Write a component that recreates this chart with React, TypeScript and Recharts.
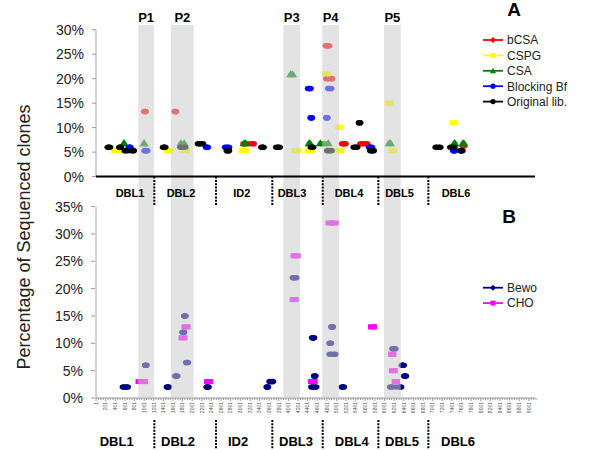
import React from 'react'
import { ComposedChart, Line, Area, XAxis, YAxis, ReferenceLine, ReferenceDot } from 'recharts'

const FONT = '"Liberation Sans", Arial, sans-serif'

// each mark: [from nt, to nt, % of sequenced clones]
type Mark = [number, number, number]

const bcsaMarks: Mark[] = [[1020, 1020, 13.3], [1650, 1650, 13.3], [3080, 3270, 6.7], [4790, 4840, 26.7], [4800, 4900, 20], [5130, 5180, 6.7], [5510, 5630, 6.7], [7645, 7645, 6.3]]
const cspgMarks: Mark[] = [[400, 460, 5.3], [1490, 1520, 5.3], [1840, 1870, 5.3], [3050, 3110, 5.3], [4150, 4190, 5.3], [4420, 4470, 5.3], [4780, 4815, 21], [5045, 5070, 10.1], [5030, 5080, 5.3], [6085, 6110, 15], [6165, 6180, 5.3], [7430, 7450, 11]]
const csaMarks: Mark[] = [[580, 585, 6.7], [1000, 1000, 6.7], [1765, 1835, 6.7], [3080, 3110, 6.7], [4050, 4090, 20.8], [4430, 4450, 6.7], [4665, 4830, 6.7], [6095, 6125, 6.7], [7450, 7465, 6.7], [7630, 7650, 6.7]]
const blockingMarks: Mark[] = [[695, 705, 6], [1020, 1055, 5.3], [2300, 2315, 6], [2695, 2755, 6], [4420, 4450, 18], [4478, 4478, 12], [4840, 4880, 18], [4800, 4800, 12], [5690, 5730, 6], [7440, 7455, 5.3]]
const originalMarks: Mark[] = [[255, 280, 6], [499, 499, 6], [610, 775, 5.3], [1405, 1430, 6], [1765, 1845, 6], [2130, 2215, 6.7], [2730, 2755, 5.3], [3450, 3475, 6], [3760, 3810, 6], [4480, 4505, 6], [4820, 4885, 5.3], [5370, 5420, 6], [5481, 5481, 11], [5715, 5765, 5.3], [7075, 7150, 6], [7380, 7440, 6], [7585, 7610, 5.3]]

const bewoMarks: Mark[] = [[570, 650, 2], [1036, 1036, 6], [1485, 1505, 2], [1660, 1680, 4], [1810, 1820, 12], [1847, 1847, 15], [1885, 1900, 6.5], [2310, 2330, 2], [3564, 3564, 2], [3620, 3670, 3], [4105, 4155, 22], [4505, 4525, 11], [4549, 4549, 4], [4490, 4570, 2], [4909, 4909, 13], [4873, 4873, 10], [4870, 4965, 8], [5125, 5145, 2], [6175, 6215, 9], [6130, 6335, 2], [6370, 6390, 6], [6420, 6435, 4]]
const choMarks: Mark[] = [[905, 1000, 3], [1800, 1820, 11], [1860, 1885, 13], [2330, 2355, 3], [4130, 4170, 26], [4110, 4135, 18], [4490, 4530, 3], [4855, 4965, 32], [5740, 5765, 13], [6161, 6161, 8], [6175, 6195, 5], [6236, 6236, 3]]

const TOP_SERIES = [
  { name: 'bCSA', color: '#ff0000', shape: 'diamond', marks: bcsaMarks },
  { name: 'CSPG', color: '#ffff00', shape: 'square', marks: cspgMarks },
  { name: 'CSA', color: '#008000', shape: 'triangle', marks: csaMarks },
  { name: 'Blocking Bf', color: '#0000ff', shape: 'circle', marks: blockingMarks },
  { name: 'Original lib.', color: '#000000', shape: 'circle', marks: originalMarks },
]
const BOTTOM_SERIES = [
  { name: 'Bewo', color: '#000080', shape: 'diamond', marks: bewoMarks },
  { name: 'CHO', color: '#ff00ff', shape: 'square', marks: choMarks },
]

const BAND_NAMES = ['P1', 'P2', 'P3', 'P4', 'P5']
const BANDS = [[880, 1205], [1560, 2032], [3896, 4243], [4705, 5054], [5990, 6338]]

const DOMAIN_NAMES = ['DBL1', 'DBL2', 'ID2', 'DBL3', 'DBL4', 'DBL5', 'DBL6']
const DOMAIN_BOUNDS = [1213, 2496, 3667, 4715, 5872, 6912]
const TOP_LABEL_POS = [707, 1768, 3031, 4077, 5262, 6313, 7488]
const BOTTOM_LABEL_POS = [430, 1706, 2954, 4160, 5319, 6365, 7530]

const POS_LABELS = [1, 201, 401, 601, 801, 1001, 1201, 1401, 1601, 1801, 2001, 2201, 2401, 2601, 2801, 3001, 3201, 3401, 3601, 3801, 4001, 4201, 4401, 4601, 4801, 5001, 5201, 5401, 5601, 5801, 6001, 6201, 6401, 6601, 6801, 7001, 7201, 7401, 7601, 7801, 8001, 8201, 8401, 8601, 8801, 9001]
const posTicks = POS_LABELS.flatMap(l => [l, l + 50, l + 100, l + 150])

const A_TICKS = [0, 5, 10, 15, 20, 25, 30]
const B_TICKS = [0, 5, 10, 15, 20, 25, 30, 35]

const X_DOMAIN = [0, 9130]
const A_DOMAIN = [-45.22, 30.96]
const B_DOMAIN = [0, 68.2]
const MARGIN = { top: 25, right: 65, bottom: 0, left: 94 }
const OVERLAY_MARGIN = { top: 25, right: 65, bottom: 52, left: 96 }

const toPoints = (marks: Mark[]) =>
  marks.flatMap(([a, b, v]) => [{ x: a, y: v }, { x: b, y: v }, { x: b, y: null }])

// peptide bands cover the full height of both panels
const bandData = BANDS.flatMap(([a, b]) => [{ x: a, y: A_DOMAIN[1] }, { x: b, y: A_DOMAIN[1] }, { x: b, y: null }])
const axisLineData = [{ x: X_DOMAIN[0], y: 0 }, { x: X_DOMAIN[1], y: 0 }]
const dividerData = DOMAIN_BOUNDS.flatMap(b => [{ x: b, y: 0 }, { x: b, y: -5.8 }, { x: b, y: null }])

const makeDot = (shape: string, color: string) => (p: any) => {
  const { cx, cy, index, payload } = p
  const k = `d${index}`
  if (!payload || payload.y == null || cx == null || cy == null || isNaN(cy)) return <g key={k} />
  if (shape === 'square') return <rect key={k} x={cx - 4} y={cy - 2.5} width={8} height={5} fill={color} />
  if (shape === 'triangle')
    return <polygon key={k} points={`${cx - 4.5},${cy + 2.5} ${cx + 4.5},${cy + 2.5} ${cx},${cy - 4.5}`} fill={color} />
  return <ellipse key={k} cx={cx} cy={cy} rx={3.8} ry={2.8} fill={color} />
}

const PosTick = (p: any) => {
  const { x, y, payload } = p
  const v = payload.value
  const major = POS_LABELS.includes(v)
  return (
    <g>
      <line x1={x} x2={x} y1={y} y2={y + (major ? 3 : 2)} stroke="#999" />
      {major && (
        <text transform={`translate(${x + 1.8},${y + 4}) rotate(-90)`} textAnchor="end" fontSize={5} fill="#555" fontFamily={FONT}>
          {v}
        </text>
      )}
    </g>
  )
}

const LegendMarker = ({ shape, color, x, y }: any) => {
  if (shape === 'square') return <rect x={x - 2.5} y={y - 2.5} width={5} height={5} fill={color} />
  if (shape === 'triangle') return <polygon points={`${x - 3},${y + 2.5} ${x + 3},${y + 2.5} ${x},${y - 3}`} fill={color} />
  if (shape === 'diamond') return <polygon points={`${x - 3},${y} ${x},${y - 3} ${x + 3},${y} ${x},${y + 3}`} fill={color} />
  return <circle cx={x} cy={y} r={2.6} fill={color} />
}

const LegendBlock = ({ series, top }: any) => (
  <g>
    {series.map((s: any, i: number) => {
      const y = top + i * 15.4
      return (
        <g key={s.name}>
          <line x1={483} x2={503} y1={y} y2={y} stroke={s.color} strokeWidth={1.8} />
          <LegendMarker shape={s.shape} color={s.color} x={493} y={y} />
          <text x={507} y={y + 4.3} fontSize={12} fill="#222" fontFamily={FONT}>{s.name}</text>
        </g>
      )
    })}
  </g>
)

const labelStyle = (value: string, size: number) => ({
  value, position: 'center' as const, fontSize: size, fontWeight: 'bold', fill: '#000', fontFamily: FONT,
})

export default function App() {
  const pct = (v: number) => `${v}%`
  const tickStyle = { fontSize: 14, fill: '#222', fontFamily: FONT }
  return (
    <div style={{ position: 'absolute', left: 0, top: 0, width: 600, height: 450, background: '#fff' }}>
      {/* base chart: axes, labels and the clone marks */}
      <ComposedChart width={600} height={450} margin={MARGIN}>
        <XAxis xAxisId="pos" dataKey="x" type="number" domain={X_DOMAIN} allowDataOverflow ticks={posTicks} interval={0}
          height={52} tickSize={0} tickMargin={0} tickLine={false} axisLine={{ stroke: '#999' }} tick={<PosTick />} />
        <YAxis yAxisId="A" type="number" domain={A_DOMAIN} allowDataOverflow ticks={A_TICKS} interval={0} width={1}
          axisLine={false} tickLine={{ stroke: '#999' }} tickSize={4} tickMargin={8} tickFormatter={pct} tick={tickStyle} />
        <YAxis yAxisId="B" type="number" domain={B_DOMAIN} allowDataOverflow ticks={B_TICKS} interval={0} width={1}
          axisLine={false} tickLine={{ stroke: '#999' }} tickSize={4} tickMargin={8} tickFormatter={pct} tick={tickStyle} />

        <ReferenceLine xAxisId="pos" yAxisId="A" segment={[{ x: 0, y: 0 }, { x: 0, y: 30 }]} stroke="#aaa" />
        <ReferenceLine xAxisId="pos" yAxisId="B" segment={[{ x: 0, y: 0 }, { x: 0, y: 35 }]} stroke="#aaa" />
        {DOMAIN_BOUNDS.map(b => (
          <ReferenceLine key={`bb${b}`} xAxisId="pos" yAxisId="B" segment={[{ x: b, y: -4.0 }, { x: b, y: -9.2 }]}
            stroke="#000" strokeWidth={2} strokeDasharray="2 1.3" ifOverflow="visible" />
        ))}

        {TOP_SERIES.map(s => (
          <Line key={s.name} xAxisId="pos" yAxisId="A" data={toPoints(s.marks)} dataKey="y" type="linear" stroke={s.color}
            strokeWidth={5} strokeLinecap={s.shape === 'square' ? 'butt' : 'round'} dot={makeDot(s.shape, s.color)}
            activeDot={false} connectNulls={false} isAnimationActive={false} legendType="none" />
        ))}
        {BOTTOM_SERIES.map(s => (
          <Line key={s.name} xAxisId="pos" yAxisId="B" data={toPoints(s.marks)} dataKey="y" type="linear" stroke={s.color}
            strokeWidth={5} strokeLinecap={s.shape === 'square' ? 'butt' : 'round'} dot={makeDot(s.shape, s.color)}
            activeDot={false} connectNulls={false} isAnimationActive={false} legendType="none" />
        ))}

        {BANDS.map(([a, b], i) => (
          <ReferenceDot key={BAND_NAMES[i]} xAxisId="pos" yAxisId="A" x={(a + b) / 2} y={32.6} r={0} fill="none" stroke="none"
            ifOverflow="visible" label={labelStyle(BAND_NAMES[i], 13)} />
        ))}
        {BOTTOM_LABEL_POS.map((p, i) => (
          <ReferenceDot key={`b${p}`} xAxisId="pos" yAxisId="B" x={p} y={-7.9} r={0} fill="none" stroke="none"
            ifOverflow="visible" label={labelStyle(DOMAIN_NAMES[i], 13)} />
        ))}
      </ComposedChart>

      {/* overlay chart: translucent peptide bands above the marks, then the panel A axis, dividers and labels */}
      <div style={{ position: 'absolute', left: 0, top: 0, pointerEvents: 'none' }}>
        <ComposedChart width={600} height={450} margin={OVERLAY_MARGIN}>
          <XAxis xAxisId="pos" dataKey="x" type="number" domain={X_DOMAIN} allowDataOverflow hide />
          <YAxis yAxisId="A" type="number" domain={A_DOMAIN} allowDataOverflow hide />
          <Area xAxisId="pos" yAxisId="A" data={bandData} dataKey="y" type="linear" baseValue={A_DOMAIN[0]}
            fill="#cccccc" fillOpacity={0.55} stroke="none" connectNulls={false} dot={false} activeDot={false}
            isAnimationActive={false} legendType="none" />
          <Line xAxisId="pos" yAxisId="A" data={axisLineData} dataKey="y" type="linear" stroke="#000" strokeWidth={2}
            dot={false} activeDot={false} isAnimationActive={false} legendType="none" />
          <Line xAxisId="pos" yAxisId="A" data={dividerData} dataKey="y" type="linear" stroke="#000" strokeWidth={2}
            strokeDasharray="2 1.3" connectNulls={false} dot={false} activeDot={false} isAnimationActive={false} legendType="none" />
          {TOP_LABEL_POS.map((p, i) => (
            <ReferenceDot key={`t${p}`} xAxisId="pos" yAxisId="A" x={p} y={-3.35} r={0} fill="none" stroke="none"
              label={labelStyle(DOMAIN_NAMES[i], 11)} />
          ))}
        </ComposedChart>
      </div>

      <svg width={600} height={450} style={{ position: 'absolute', left: 0, top: 0, pointerEvents: 'none' }}>
        <text transform="translate(30,237) rotate(-90)" textAnchor="middle" fontSize={18} fill="#222" fontFamily={FONT}>
          Percentage of Sequenced clones
        </text>
        <text x={514} y={16} textAnchor="middle" fontSize={19} fontWeight="bold" fill="#000" fontFamily={FONT}>A</text>
        <text x={509} y={223} textAnchor="middle" fontSize={19} fontWeight="bold" fill="#000" fontFamily={FONT}>B</text>
        <LegendBlock series={TOP_SERIES} top={40} />
        <LegendBlock series={BOTTOM_SERIES} top={287.7} />
      </svg>
    </div>
  )
}
